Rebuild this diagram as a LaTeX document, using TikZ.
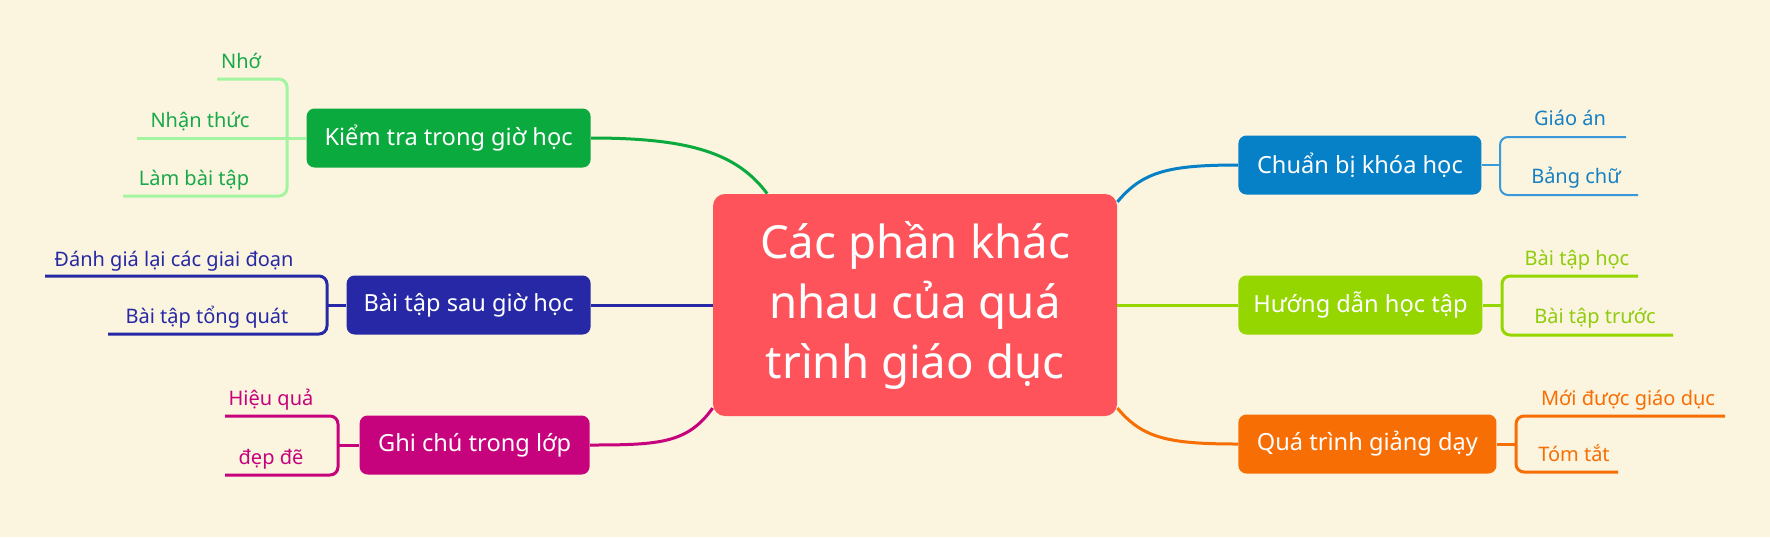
\documentclass[tikz,border=0pt]{standalone}
\usepackage{fontspec}
\setmainfont{Noto Sans}
\definecolor{paper}{HTML}{FBF4DE}
\definecolor{corered}{HTML}{FE535B}
\definecolor{kgreen}{HTML}{0BAA3E}
\definecolor{kgreentext}{HTML}{17A94A}
\definecolor{kgreenline}{HTML}{A4F5A2}
\definecolor{cblue}{HTML}{0680C6}
\definecolor{cbluetext}{HTML}{1780C2}
\definecolor{cblueline}{HTML}{3A9AD9}
\definecolor{bnavy}{HTML}{2628A5}
\definecolor{gmag}{HTML}{C7027D}
\definecolor{hlime}{HTML}{95D600}
\definecolor{hlimetext}{HTML}{8FCC0C}
\definecolor{qorange}{HTML}{F76E04}

\begin{document}
\begin{tikzpicture}[x=0.5pt,y=-0.5pt,
  topic/.style={rounded corners=4pt,text=white,inner xsep=6pt,inner ysep=0pt,minimum height=29.5pt,font=\fontsize{11.8}{14}\selectfont},
  leaf/.style={anchor=base,inner sep=0pt,font=\fontsize{10}{12}\selectfont},
  link/.style={line width=1.5pt},
  brace/.style={line width=1.5pt,rounded corners=4pt}]
   \fill[paper] (0,0) rectangle (1770,537);
   \node[fill=corered,rounded corners=6pt,minimum width=202pt,minimum height=111pt,
     text=white,align=center,font=\fontsize{22.8}{30}\selectfont] (core) at (915,305)
     {Các phần khác\\nhau của quá\\trình giáo dục};
   % left
   \node[topic,fill=kgreen,anchor=east,minimum width=142pt] (kiemtra) at (591,138) {Kiểm tra trong giờ học};
   \node[topic,fill=bnavy,anchor=east,minimum width=122pt] (baitap) at (591,305) {Bài tập sau giờ học};
   \node[topic,fill=gmag,anchor=east,minimum width=115pt] (ghichu) at (590,445) {Ghi chú trong lớp};
   % right
   \node[topic,fill=cblue,anchor=west,minimum width=121.5pt] (chuanbi) at (1238,165) {Chuẩn bị khóa học};
   \node[topic,fill=hlime,anchor=west,minimum width=122pt] (huongdan) at (1238,305) {Hướng dẫn học tập};
   \node[topic,fill=qorange,anchor=west,minimum width=129pt] (quatrinh) at (1238,444) {Quá trình giảng dạy};

   \draw[link,kgreen] (kiemtra.east) .. controls +(100,0) and +(-30,-40) .. (core.143);
   \draw[link,bnavy] (baitap.east) -- (core.west);
   \draw[link,gmag] (ghichu.east) .. controls +(70,0) and +(-25,35) .. (core.207);
   \draw[link,cblue] (core.27) .. controls +(25,-30) and +(-70,0) .. (chuanbi.west);
   \draw[link,hlime] (core.east) -- (huongdan.west);
   \draw[link,qorange] (core.-27) .. controls +(25,30) and +(-70,0) .. (quatrinh.west);

   % Kiem tra
   \coordinate (kj) at (287,138);
   \coordinate (k1) at (217,79);
   \coordinate (k2) at (137,138);
   \coordinate (k3) at (123,196);
   \draw[brace,kgreenline] (k1) -| (kj) |- (k3);
   \draw[link,kgreenline] (k2) -- (kiemtra.west);
   \node[leaf,text=kgreentext] (nho) at (241,68) {Nhớ};
   \node[leaf,text=kgreentext] (nhanthuc) at (200,127) {Nhận thức};
   \node[leaf,text=kgreentext] (lambai) at (194,185) {Làm bài tập};

   % Bai tap sau
   \coordinate (bj) at (327,305);
   \coordinate (b1) at (45,276);
   \coordinate (b2) at (108,334);
   \draw[brace,bnavy] (b1) -| (bj) |- (b2);
   \draw[link,bnavy] (bj) -- (baitap.west);
   \node[leaf,text=bnavy] (danhgia) at (174,266) {Đánh giá lại các giai đoạn};
   \node[leaf,text=bnavy] (tongquat) at (207,323) {Bài tập tổng quát};

   % Ghi chu
   \coordinate (gj) at (338,445);
   \coordinate (g1) at (225,416);
   \coordinate (g2) at (225,475);
   \draw[brace,gmag] (g1) -| (gj) |- (g2);
   \draw[link,gmag] (gj) -- (ghichu.west);
   \node[leaf,text=gmag] (hieuqua) at (271,405) {Hiệu quả};
   \node[leaf,text=gmag] (depde) at (271,464) {đẹp đẽ};

   % Chuan bi
   \coordinate (cj) at (1500,165);
   \coordinate (c1) at (1626,137);
   \coordinate (c2) at (1638,195);
   \draw[brace,cblueline,line width=1pt] (c1) -| (cj) |- (c2);
   \draw[link,cblueline,line width=1pt] (chuanbi.east) -- (cj);
   \node[leaf,text=cbluetext] (giaoan) at (1570,125) {Giáo án};
   \node[leaf,text=cbluetext] (bangchu) at (1576,183) {Bảng chữ};

   % Huong dan
   \coordinate (hj) at (1502,305);
   \coordinate (h1) at (1638,276);
   \coordinate (h2) at (1673,335);
   \draw[brace,hlime] (h1) -| (hj) |- (h2);
   \draw[link,hlime] (huongdan.east) -- (hj);
   \node[leaf,text=hlimetext] (baihoc) at (1577,265) {Bài tập học};
   \node[leaf,text=hlimetext] (baitruoc) at (1595,323) {Bài tập trước};

   % Qua trinh
   \coordinate (qj) at (1516,444);
   \coordinate (q1) at (1725,416);
   \coordinate (q2) at (1618,472);
   \draw[brace,qorange] (q1) -| (qj) |- (q2);
   \draw[link,qorange] (quatrinh.east) -- (qj);
   \node[leaf,text=qorange] (moiduoc) at (1628,405) {Mới được giáo dục};
   \node[leaf,text=qorange] (tomtat) at (1574,461) {Tóm tắt};
\end{tikzpicture}
\end{document}
